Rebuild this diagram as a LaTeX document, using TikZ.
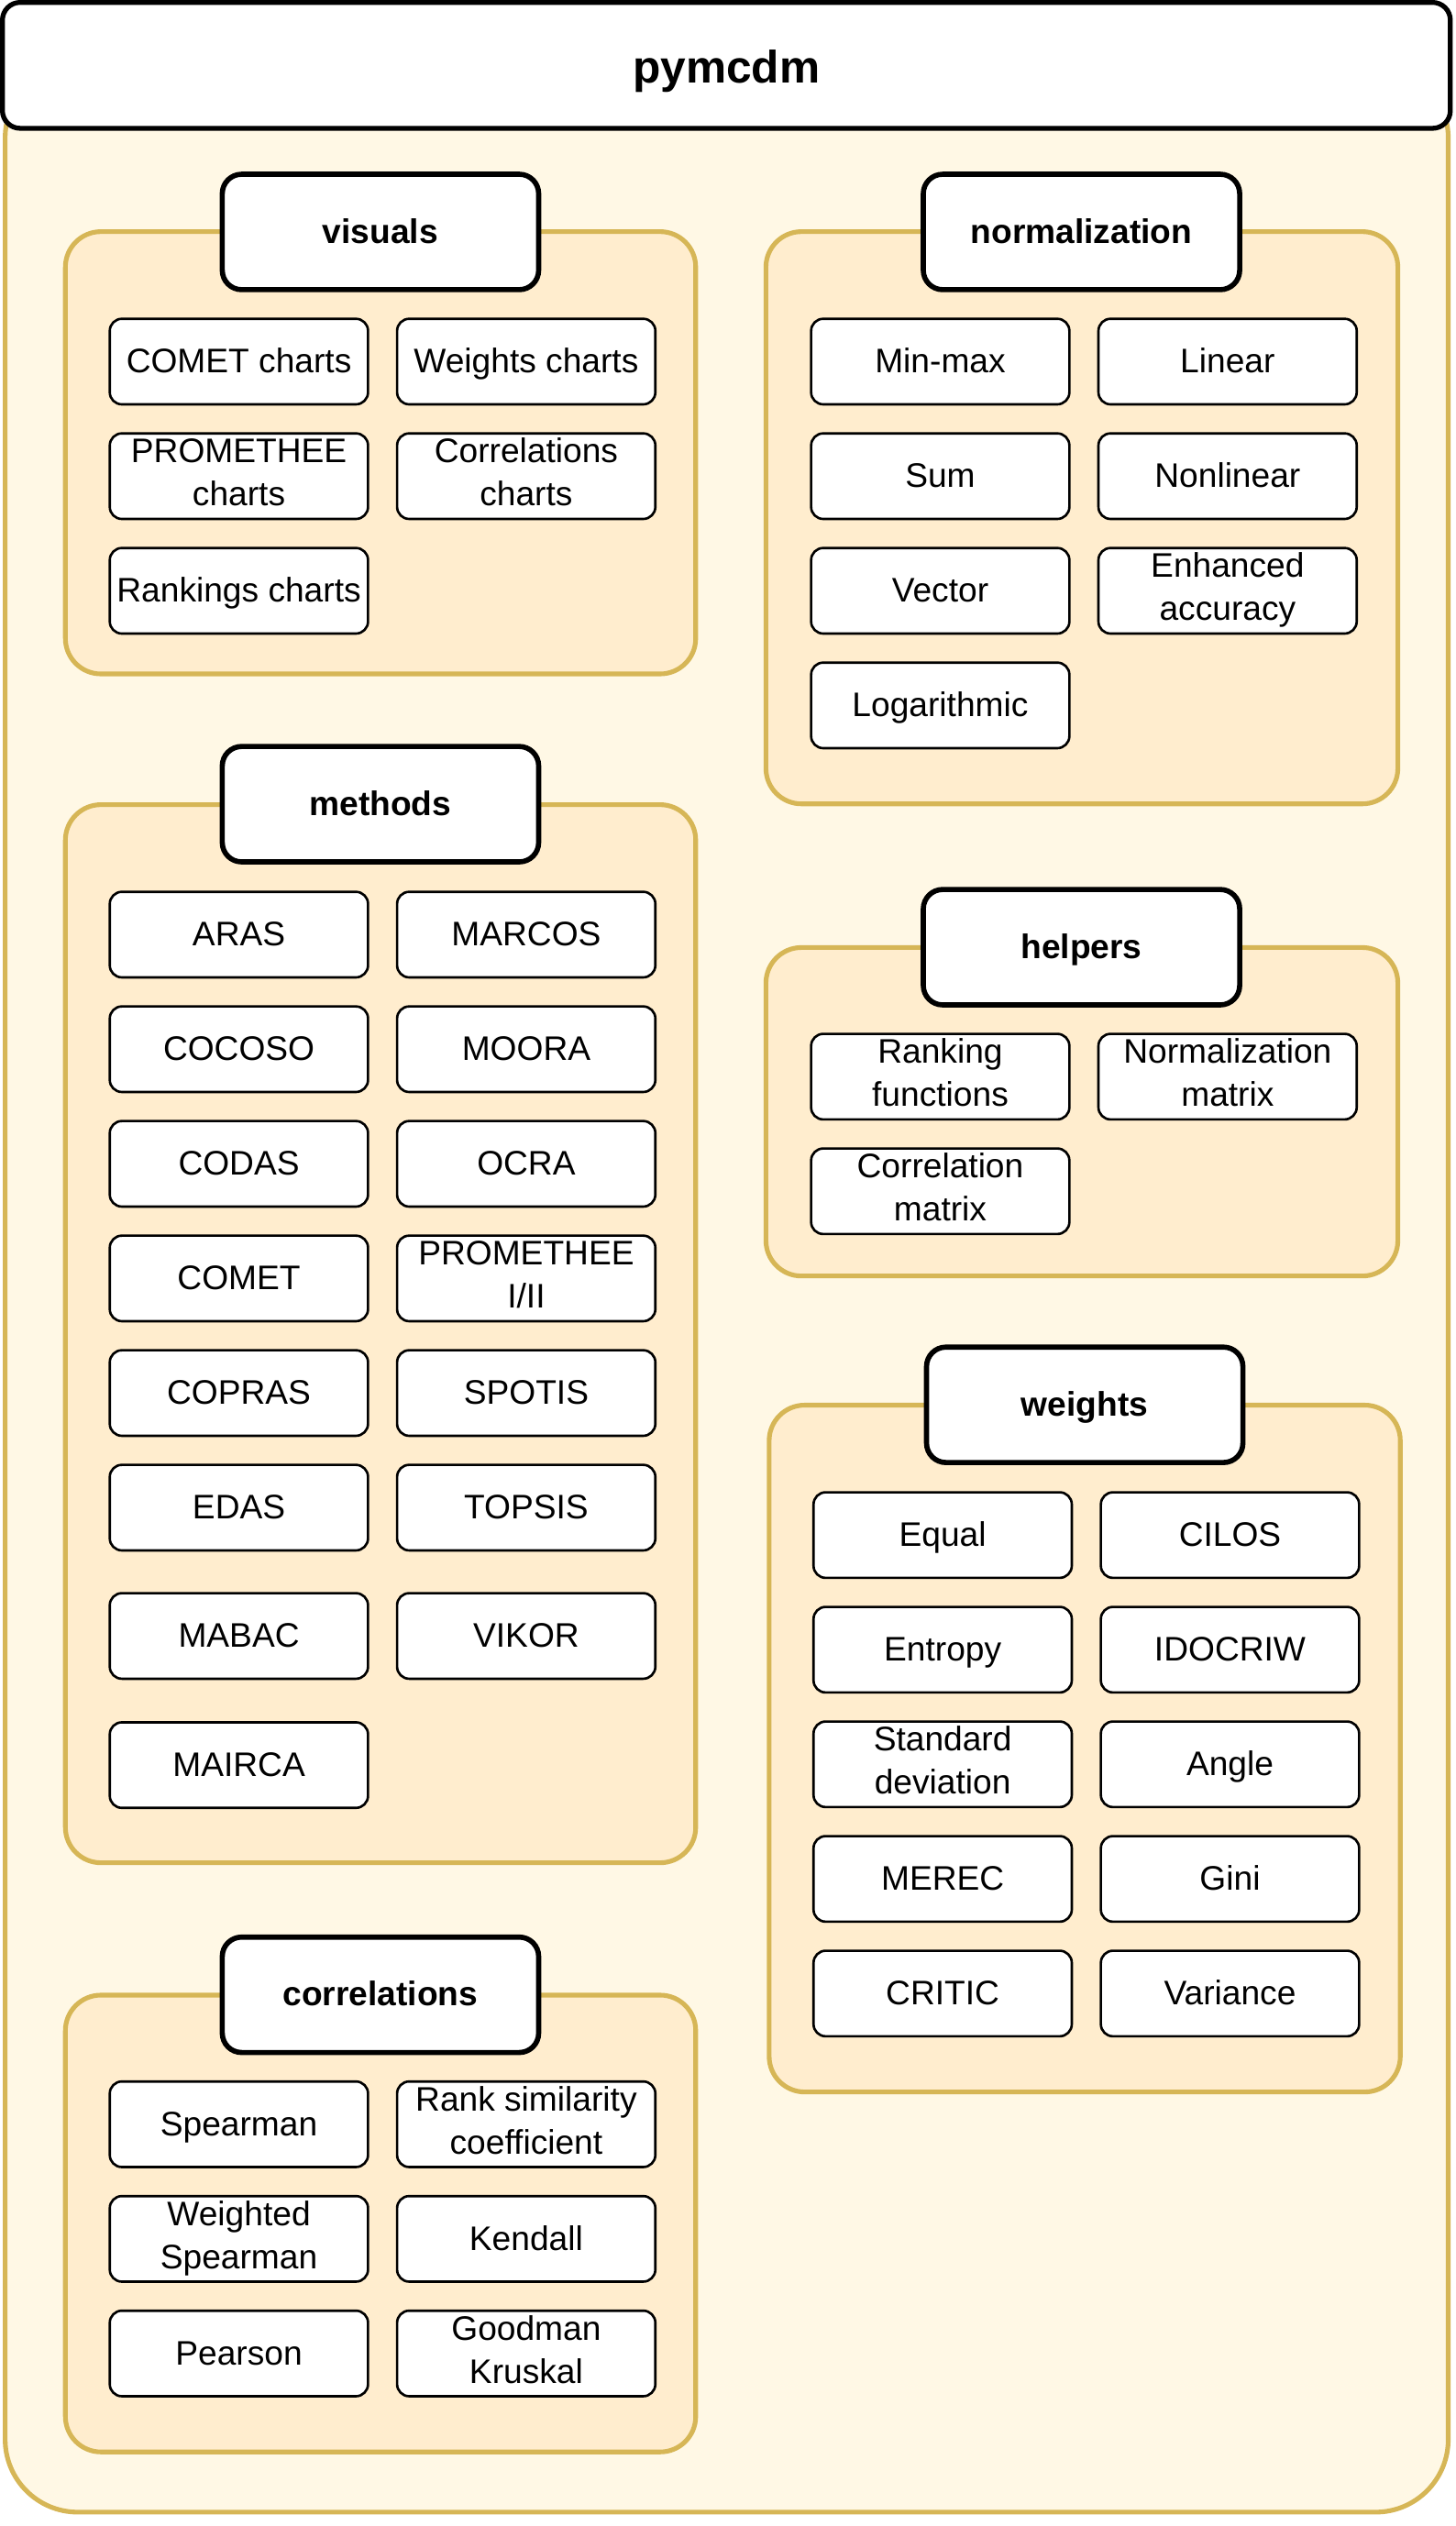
\documentclass[tikz,border=0pt]{standalone}
\usepackage{fontspec}
\setmainfont{Liberation Sans}
\definecolor{gold}{HTML}{D6B656}
\definecolor{outerfill}{HTML}{FFF8E5}
\definecolor{grpfill}{HTML}{FFEDCE}
\newcommand{\stt}{\rule[-5pt]{0pt}{24pt}}
\newcommand{\sttbig}{\rule[-7pt]{0pt}{36pt}}
\tikzset{
  outerbox/.style={draw=gold, line width=2.9pt, fill=outerfill, rounded corners=45pt, inner sep=0pt},
  grp/.style={draw=gold, line width=2.9pt, fill=grpfill, rounded corners=22pt, inner sep=0pt},
  hdr/.style={draw=black, line width=3pt, fill=white, rounded corners=11pt, inner sep=0pt,
    minimum width=897pt, minimum height=78pt, font=\fontsize{28.2}{34}\selectfont\bfseries,
    execute at begin node=\sttbig},
  ttl/.style={draw=black, line width=3.2pt, fill=white, rounded corners=12pt, inner sep=0pt,
    minimum width=196pt, minimum height=71.5pt, font=\fontsize{21.1}{26.7}\selectfont\bfseries,
    execute at begin node=\stt},
  itm/.style={draw=black, line width=1.5pt, fill=white, rounded corners=7.5pt, inner sep=0pt,
    minimum width=160pt, minimum height=53pt, align=center,
    font=\fontsize{21.1}{26.7}\selectfont,
    execute at begin node=\stt, execute at end node=\stt},
}
\begin{document}
\begin{tikzpicture}[x=1pt,y=-1pt]
\useasboundingbox (0,0) rectangle (902,1564.9);
% outer container and header
\node[outerbox, minimum width=894pt, minimum height=1516pt] (outer) at (450.2,798.3) {};
\node[hdr] (hdr) at (450,40.5) {pymcdm};

% groups
\node[grp, minimum width=390.5pt, minimum height=274pt] (gvis) at (235.75,280.5) {};
\node[grp, minimum width=391.5pt, minimum height=354.5pt] (gnorm) at (670.25,320.75) {};
\node[grp, minimum width=390.5pt, minimum height=655.5pt] (gmeth) at (235.75,826.25) {};
\node[grp, minimum width=391.5pt, minimum height=203.5pt] (ghelp) at (670.25,688.75) {};
\node[grp, minimum width=391pt, minimum height=425.5pt] (gweig) at (672,1083.25) {};
\node[grp, minimum width=390.5pt, minimum height=283pt] (gcorr) at (235.75,1377.5) {};

% titles
\node[ttl] (tvis) at (235.7,143.7) {visuals};
\node[ttl] (tnorm) at (670,143.7) {normalization};
\node[ttl] (tmeth) at (235.7,498.2) {methods};
\node[ttl] (thelp) at (670,586.8) {helpers};
\node[ttl] (tweig) at (672,870.3) {weights};
\node[ttl] (tcorr) at (235.7,1235.8) {correlations};

% visuals
\node[itm] (v1) at (148,224) {COMET charts};
\node[itm] (v2) at (326,224) {Weights charts};
\node[itm] (v3) at (148,295) {PROMETHEE\\charts};
\node[itm] (v4) at (326,295) {Correlations\\charts};
\node[itm] (v5) at (148,366) {Rankings charts};

% normalization
\node[itm] (n1) at (582.5,224) {Min-max};
\node[itm] (n2) at (760.5,224) {Linear};
\node[itm] (n3) at (582.5,295) {Sum};
\node[itm] (n4) at (760.5,295) {Nonlinear};
\node[itm] (n5) at (582.5,366) {Vector};
\node[itm] (n6) at (760.5,366) {Enhanced\\accuracy};
\node[itm] (n7) at (582.5,437) {Logarithmic};

% methods
\node[itm] (m1) at (148,579) {ARAS};
\node[itm] (m2) at (326,579) {MARCOS};
\node[itm] (m3) at (148,650) {COCOSO};
\node[itm] (m4) at (326,650) {MOORA};
\node[itm] (m5) at (148,721) {CODAS};
\node[itm] (m6) at (326,721) {OCRA};
\node[itm] (m7) at (148,792) {COMET};
\node[itm] (m8) at (326,792) {PROMETHEE\\I/II};
\node[itm] (m9) at (148,863) {COPRAS};
\node[itm] (m10) at (326,863) {SPOTIS};
\node[itm] (m11) at (148,934) {EDAS};
\node[itm] (m12) at (326,934) {TOPSIS};
\node[itm] (m13) at (148,1013.5) {MABAC};
\node[itm] (m14) at (326,1013.5) {VIKOR};
\node[itm] (m15) at (148,1093.5) {MAIRCA};

% helpers
\node[itm] (h1) at (582.5,667) {Ranking\\functions};
\node[itm] (h2) at (760.5,667) {Normalization\\matrix};
\node[itm] (h3) at (582.5,738) {Correlation\\matrix};

% weights
\node[itm] (w1) at (584,951) {Equal};
\node[itm] (w2) at (762,951) {CILOS};
\node[itm] (w3) at (584,1022) {Entropy};
\node[itm] (w4) at (762,1022) {IDOCRIW};
\node[itm] (w5) at (584,1093) {Standard\\deviation};
\node[itm] (w6) at (762,1093) {Angle};
\node[itm] (w7) at (584,1164) {MEREC};
\node[itm] (w8) at (762,1164) {Gini};
\node[itm] (w9) at (584,1235) {CRITIC};
\node[itm] (w10) at (762,1235) {Variance};

% correlations
\node[itm] (c1) at (148,1316) {Spearman};
\node[itm] (c2) at (326,1316) {Rank similarity\\coefficient};
\node[itm] (c3) at (148,1387) {Weighted\\Spearman};
\node[itm] (c4) at (326,1387) {Kendall};
\node[itm] (c5) at (148,1458) {Pearson};
\node[itm] (c6) at (326,1458) {Goodman\\Kruskal};
\end{tikzpicture}
\end{document}
